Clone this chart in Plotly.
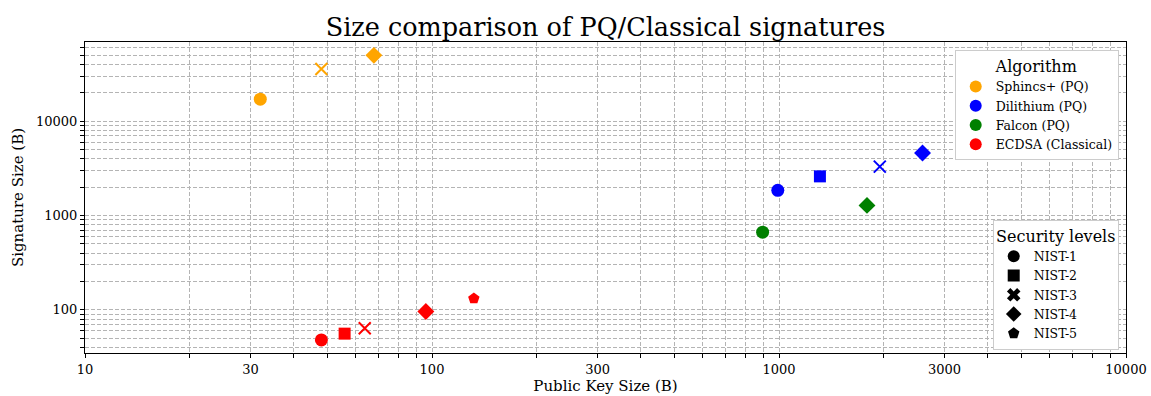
import plotly.graph_objects as go

# ---- data ----
algorithms = ["Sphincs+ (PQ)", "Dilithium (PQ)", "Falcon (PQ)", "ECDSA (Classical)"]
algo_colors = ["orange", "blue", "green", "red"]

sphincs_pk = [32, 48, 68]
sphincs_sig = [17088, 35664, 49856]
sphincs_levels = ["NIST-1", "NIST-3", "NIST-4"]

dilithium_pk = [992, 1312, 1952, 2592]
dilithium_sig = [1850, 2600, 3300, 4600]
dilithium_levels = ["NIST-1", "NIST-2", "NIST-3", "NIST-4"]

falcon_pk = [897, 1793]
falcon_sig = [666, 1280]
falcon_levels = ["NIST-1", "NIST-4"]

ecdsa_pk = [48, 56, 64, 96, 132]
ecdsa_sig = [48, 56, 64, 96, 132]
ecdsa_levels = ["NIST-1", "NIST-2", "NIST-3", "NIST-4", "NIST-5"]

levels = ["NIST-1", "NIST-2", "NIST-3", "NIST-4", "NIST-5"]
level_symbols = {"NIST-1": "circle", "NIST-2": "square", "NIST-3": "x-thin",
                 "NIST-4": "diamond", "NIST-5": "pentagon"}
legend_symbols = {"NIST-1": "circle", "NIST-2": "square", "NIST-3": "x",
                  "NIST-4": "diamond", "NIST-5": "pentagon"}
level_sizes = {"NIST-1": 13, "NIST-2": 12, "NIST-3": 12, "NIST-4": 13, "NIST-5": 12}

x_tick_labels = [10, 30, 100, 300, 1000, 3000, 10000]
y_tick_labels = [100, 1000, 10000]

series = [
    (sphincs_pk, sphincs_sig, sphincs_levels),
    (dilithium_pk, dilithium_sig, dilithium_levels),
    (falcon_pk, falcon_sig, falcon_levels),
    (ecdsa_pk, ecdsa_sig, ecdsa_levels),
]

FONT = "DejaVu Serif"
fig = go.Figure()

for (pk, sig, lv), name, col in zip(series, algorithms, algo_colors):
    fig.add_trace(go.Scatter(
        x=pk, y=sig, mode="markers", showlegend=False,
        marker=dict(symbol=[level_symbols[l] for l in lv], color=col, opacity=1,
                    size=[level_sizes[l] for l in lv],
                    line=dict(color=col, width=[2 if l == "NIST-3" else 0 for l in lv])),
        hovertext=lv, name=name,
    ))

# Legend 1: algorithms
for name, col in zip(algorithms, algo_colors):
    fig.add_trace(go.Scatter(
        x=[None], y=[None], mode="markers", name=name, legend="legend",
        marker=dict(symbol="circle", color=col, size=13, opacity=1),
    ))

# Legend 2: security levels
for l in levels:
    fig.add_trace(go.Scatter(
        x=[None], y=[None], mode="markers", name=l, legend="legend2",
        marker=dict(symbol=legend_symbols[l], color="black", opacity=1,
                    size=12 if l == "NIST-4" else 9),
    ))

def log_ticks(lo_exp, hi_exp, start, stop):
    vals = []
    for e in range(lo_exp, hi_exp + 1):
        for m in range(1, 10):
            v = m * 10 ** e
            if start <= v <= stop:
                vals.append(v)
    return vals

xvals = log_ticks(1, 4, 10, 10000)
yvals = log_ticks(1, 4, 35, 69000)
xtext = [str(v) if v in x_tick_labels else "" for v in xvals]
ytext = [str(v) if v in y_tick_labels else "" for v in yvals]

axis_common = dict(
    type="log", showgrid=True, gridcolor="#b4b4b4", griddash="4px,2px", gridwidth=1,
    showline=True, linecolor="black", linewidth=1, mirror=True,
    ticks="outside", ticklen=4, tickcolor="black", zeroline=False, automargin=False,
    tickfont=dict(family=FONT, size=13, color="black"),
)

fig.update_layout(
    width=1151, height=396,
    margin=dict(l=85, r=25, t=42, b=43),
    paper_bgcolor="white", plot_bgcolor="white",
    font=dict(family=FONT, color="black"),
    title=dict(text="Size comparison of PQ/Classical signatures",
               xref="paper", x=0.5, xanchor="center",
               yref="container", y=1 - 27 / 396, yanchor="middle",
               font=dict(family=FONT, size=25.5, color="black")),
    xaxis=dict(axis_common, range=[1, 4], tickvals=xvals, ticktext=xtext,
               title=dict(text="Public Key Size (B)", font=dict(family=FONT, size=15), standoff=4)),
    yaxis=dict(axis_common, range=[1.543, 4.839], tickvals=yvals, ticktext=ytext,
               title=dict(text="Signature Size (B)", font=dict(family=FONT, size=15), standoff=8)),
    legend=dict(
        x=0.993, y=0.974, xanchor="right", yanchor="top",
        bgcolor="white", bordercolor="#cccccc", borderwidth=1,
        title=dict(text="Algorithm", side="top center", font=dict(family=FONT, size=16)),
        font=dict(family=FONT, size=12.5), itemsizing="constant", tracegroupgap=0,
    ),
    legend2=dict(
        x=0.993, y=0.01, xanchor="right", yanchor="bottom",
        bgcolor="white", bordercolor="#cccccc", borderwidth=1,
        title=dict(text="Security levels", side="top center", font=dict(family=FONT, size=16)),
        font=dict(family=FONT, size=12.5), itemsizing="constant", tracegroupgap=0,
    ),
)

fig.write_html("out.html", config={"displayModeBar": False},
               post_script="document.body.style.margin='0';")
